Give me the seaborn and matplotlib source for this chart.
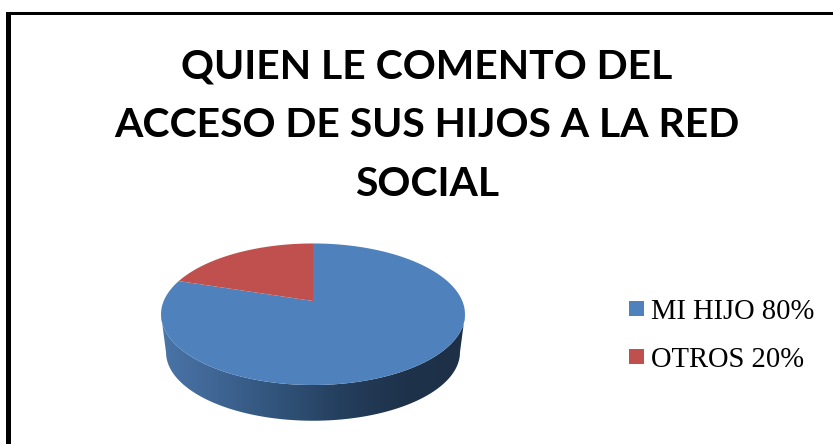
import matplotlib
matplotlib.use('Agg')
import matplotlib.pyplot as plt
import numpy as np
import seaborn as sns
from matplotlib.patches import Polygon, Rectangle

# data
labels = ['MI HIJO 80%', 'OTROS 20%']
values = [80, 20]
colors = ['#4F81BD', '#C0504D']
title_lines = ['QUIEN LE COMENTO DEL', 'ACCESO DE SUS HIJOS A LA RED', 'SOCIAL']

W, H = 833, 444
sns.set_theme(style='white')

fig = plt.figure(figsize=(W / 100, H / 100), dpi=100, facecolor='white')
# axes in pixel coords, y pointing down like the reference
ax = fig.add_axes([0, 0, 1, 1])
pie_ax = fig.add_axes([0, 0, 0.01, 0.01])
wedges, _ = pie_ax.pie(values, startangle=90, counterclock=False, colors=colors)
thetas = [(w.theta1, w.theta2) for w in wedges]
pie_ax.set_visible(False)


def project(theta, scale=1.0, y0=301.0):
    # tilted disc seen in perspective, angle in degrees
    u = np.cos(np.radians(theta))
    v = np.sin(np.radians(theta))
    d = 1 + 0.187 * v
    return 313 + scale * 149.3 * u / d, y0 - scale * 68.3 * v / d


# side wall with horizontal shading, between the widest points of the rims
t_front = np.linspace(190.8, 349.2, 200)
xt, yt = project(t_front)
xb, yb = project(t_front, scale=0.967, y0=339.5)
side = Polygon(np.r_[np.c_[xt, yt], np.c_[xb, yb][::-1]], closed=True, fc='none', ec='none')
ax.add_patch(side)
shade = np.array([[74, 117, 168], [62, 100, 146], [48, 82, 120], [36, 62, 92], [30, 50, 74], [29, 48, 71]]) / 255
pos = np.linspace(0, 5, 300)
img = np.stack([np.interp(pos, np.arange(6), shade[:, i]) for i in range(3)], axis=-1)[None, :, :]
im = ax.imshow(img, extent=(160, 466, 425, 300), aspect='auto', zorder=1)
im.set_clip_path(side)
ax.set_xlim(0, W)
ax.set_ylim(H, 0)
ax.axis('off')

# top face, angles come from the pie layout
for (t1, t2), color in zip(thetas, colors):
    t = np.linspace(t1, t2, 200)
    x, y = project(t)
    cx, cy = project(0.0, scale=0.0)
    ax.fill(np.r_[cx, x], np.r_[cy, y], color=color, lw=0, zorder=2)

# outer frame, only left and top are inside the crop
ax.add_patch(Rectangle((6, 12), W - 6, 3.5, fc='black', ec='none', zorder=3))
ax.add_patch(Rectangle((6, 12), 5, H - 12, fc='black', ec='none', zorder=3))

# title
for line, y in zip(title_lines, [78, 137, 196]):
    ax.text(427, y, line, ha='center', va='baseline', fontsize=29.4,
            family='Lato', fontweight='bold', color='black')

# legend
for label, color, y in zip(labels, colors, [308.5, 356.5]):
    ax.add_patch(Rectangle((629, y - 7.5), 15, 15, fc=color, ec='none'))
    ax.text(651, y + 10.5, label, ha='left', va='baseline', fontsize=20.6,
            family='Liberation Serif', color='black')

fig.savefig('out.png', dpi=100)
